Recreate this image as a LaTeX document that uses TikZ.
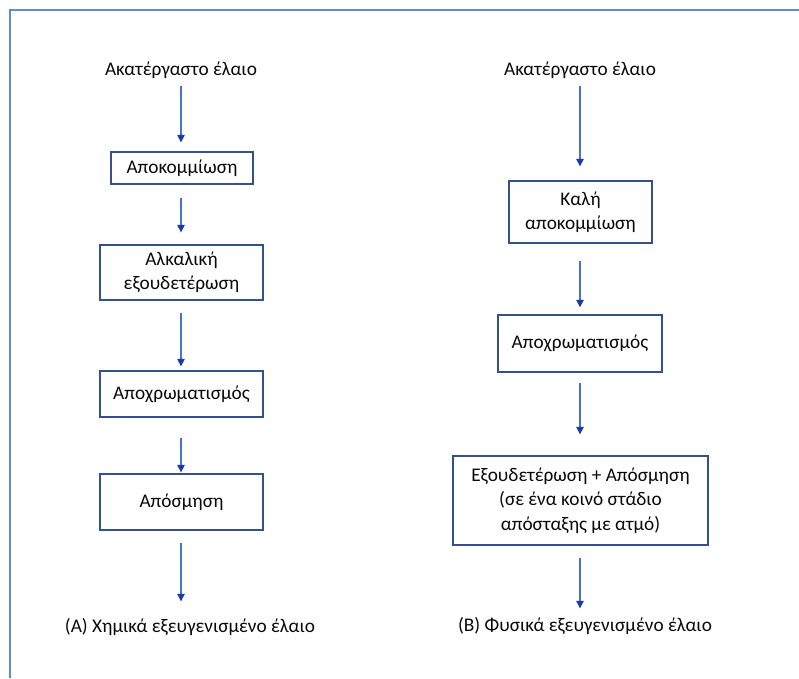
\documentclass[tikz,border=0pt]{standalone}
\usepackage{fontspec}
\setmainfont{Carlito}
\usetikzlibrary{arrows.meta}

\definecolor{framec}{HTML}{5B8BD9}
\definecolor{linec}{HTML}{4A72C8}
\definecolor{tipc}{HTML}{1B3CA8}
\definecolor{boxc}{HTML}{34508F}
\definecolor{txtc}{HTML}{0A0A0A}

\begin{document}
\begin{tikzpicture}[x=1pt,y=-1pt,
  every node/.style={font=\fontsize{19.3}{24.3}\selectfont, text=txtc, align=center, inner sep=0pt},
  stepbox/.style={draw=boxc, line width=1.3pt},
  caption/.style={text height=13pt, text depth=4pt},
  flow/.style={draw=linec, line width=1.1pt,
    -{Triangle[width=7.5pt,length=7.5pt,fill=tipc,color=tipc]}},
]
\useasboundingbox (0,0) rectangle (799,678);
\fill[white] (0,0) rectangle (799,678);

% frame edges
\draw[framec, line width=2.5pt] (10,678) -- (10,10) -- (799,10);

% left column: chemical refining
\node[caption] (topL) at (181,71) {Ακατέργαστο έλαιο};
\node[stepbox, minimum width=142pt, minimum height=32pt] (L1) at (182,168) {Αποκομμίωση};
\node[stepbox, minimum width=163pt, minimum height=55pt] (L2) at (181.5,272.5) {Αλκαλική\\εξουδετέρωση};
\node[stepbox, minimum width=163pt, minimum height=46pt] (L3) at (181.5,394) {Αποχρωματισμός};
\node[stepbox, minimum width=163pt, minimum height=56pt] (L4) at (181.5,502) {Απόσμηση};
\node[caption] (endL) at (190,628) {(Α) Χημικά εξευγενισμένο έλαιο};

% right column: physical refining
\node[caption] (topR) at (580,71) {Ακατέργαστο έλαιο};
\node[stepbox, minimum width=143pt, minimum height=62pt] (R1) at (580.5,212) {Καλή\\αποκομμίωση};
\node[stepbox, minimum width=164pt, minimum height=57pt] (R2) at (580,343.5) {Αποχρωματισμός};
\node[stepbox, minimum width=255pt, minimum height=89pt] (R3) at (580.5,500.5) {Εξουδετέρωση + Απόσμηση\\(σε ένα κοινό στάδιο\\απόσταξης με ατμό)};
\node[caption] (endR) at (585,627) {(Β) Φυσικά εξευγενισμένο έλαιο};

% connectors, left
\draw[flow, shorten <=6pt, shorten >=9pt] (topL.south) -- (topL.south |- L1.north);
\draw[flow, shorten <=13pt, shorten >=12pt] (L1.south -| topL.south) -- (topL.south |- L2.north);
\draw[flow, shorten <=12pt, shorten >=4pt] (L2.south -| topL.south) -- (topL.south |- L3.north);
\draw[flow, shorten <=20pt, shorten >=1pt] (L3.south -| topL.south) -- (topL.south |- L4.north);
\draw[flow, shorten <=12pt, shorten >=18pt] (L4.south -| topL.south) -- (topL.south |- endL.north);

% connectors, right
\draw[flow, shorten <=6pt, shorten >=14pt] (topR.south) -- (topR.south |- R1.north);
\draw[flow, shorten <=17pt, shorten >=7pt] (R1.south -| topR.south) -- (topR.south |- R2.north);
\draw[flow, shorten <=10pt, shorten >=21pt] (R2.south -| topR.south) -- (topR.south |- R3.north);
\draw[flow, shorten <=12pt, shorten >=10pt] (R3.south -| topR.south) -- (topR.south |- endR.north);
\end{tikzpicture}
\end{document}
